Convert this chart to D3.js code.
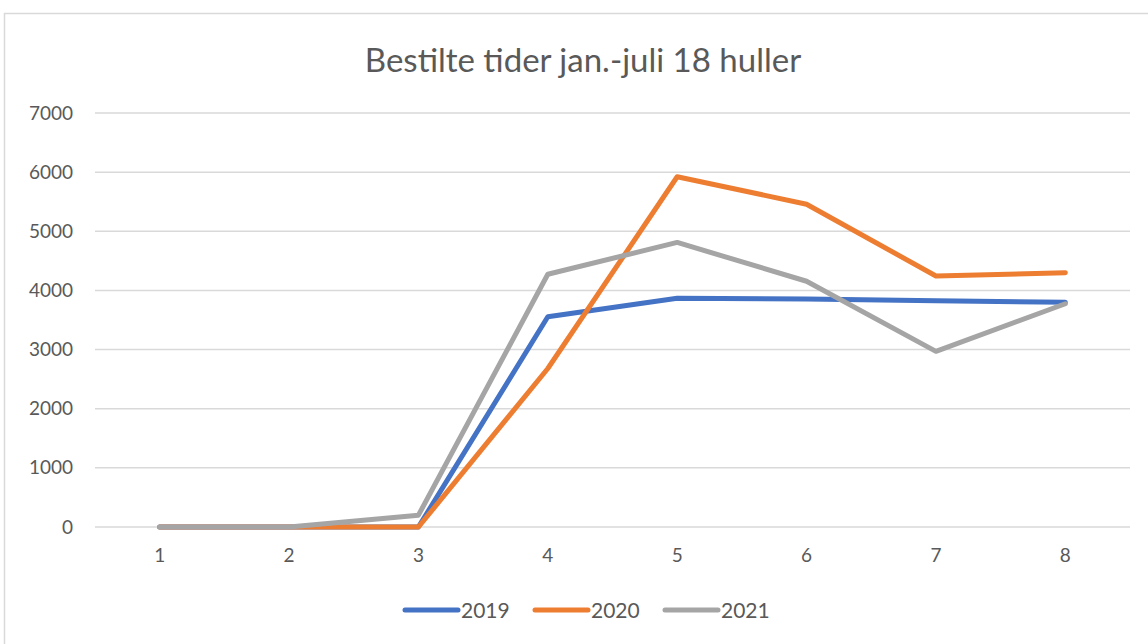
<!DOCTYPE html>
<html>
<head>
<meta charset="utf-8">
<script src="https://cdn.jsdelivr.net/npm/d3@7"></script>
<style>
	body { margin: 0; background: #fff; }
	text { font-family: Lato, "Open Sans", sans-serif; fill: #595959; }
</style>
</head>
<body>
<div id="chart"></div>
<script>
// chart data
let categories = [1, 2, 3, 4, 5, 6, 7, 8];
let seriesNames = ["2019", "2020", "2021"];
let values2019 = [0, 0, 0, 3555, 3868, 3855, 3825, 3800];
let values2020 = [0, 0, 0, 2680, 5922, 5458, 4244, 4300];
let values2021 = [0, 0, 200, 4273, 4812, 4155, 2970, 3775];
let yTicks = [0, 1000, 2000, 3000, 4000, 5000, 6000, 7000];
let colors = ["#4472C4", "#ED7D31", "#A5A5A5"];

let series = [values2019, values2020, values2021].map((vals, i) => ({
	name: seriesNames[i],
	color: colors[i],
	points: vals.map((v, j) => ({cat: categories[j], value: v}))
}));

let width = 1148, height = 644;
let margin = {top: 113, right: 18, bottom: 117, left: 95};

let svg = d3.select("#chart").append("svg")
	.attr("width", width)
	.attr("height", height);

// chart border
svg.append("rect")
	.attr("x", 4.5)
	.attr("y", 13.5)
	.attr("width", 1160)
	.attr("height", 660)
	.attr("fill", "none")
	.attr("stroke", "#D9D9D9")
	.attr("stroke-width", 1.5);

svg.append("text")
	.attr("x", 583)
	.attr("y", 72)
	.attr("text-anchor", "middle")
	.style("font-size", "33px")
	.text("Bestilte tider jan.-juli 18 huller");

let xScale = d3.scaleBand()
	.domain(categories)
	.range([margin.left, width - margin.right]);

let yScale = d3.scaleLinear()
	.domain([0, 7000])
	.range([height - margin.bottom, margin.top]);

// gridlines
svg.append("g")
	.selectAll("line")
	.data(yTicks)
	.enter()
	.append("line")
	.attr("x1", xScale.range()[0])
	.attr("x2", xScale.range()[1])
	.attr("y1", d => yScale(d))
	.attr("y2", d => yScale(d))
	.attr("stroke", "#D9D9D9")
	.attr("stroke-width", 1.5);

let yAxis = d3.axisLeft(yScale)
	.tickValues(yTicks)
	.tickFormat(d3.format("d"))
	.tickSize(0)
	.tickPadding(22);

let gy = svg.append("g")
	.attr("transform", "translate(" + margin.left + ",0)")
	.call(yAxis);
gy.select(".domain").remove();
gy.selectAll("text").style("font-size", "19px").attr("fill", "#595959");

let xAxis = d3.axisBottom(xScale)
	.tickSize(0)
	.tickPadding(22);

let gx = svg.append("g")
	.attr("transform", "translate(0," + yScale(0) + ")")
	.call(xAxis);
gx.select(".domain").remove();
gx.selectAll("text").style("font-size", "19px").attr("fill", "#595959");

let line = d3.line()
	.x(d => xScale(d.cat) + xScale.bandwidth() / 2)
	.y(d => yScale(d.value));

svg.append("g")
	.selectAll("path")
	.data(series)
	.enter()
	.append("path")
	.attr("d", d => line(d.points))
	.attr("fill", "none")
	.attr("stroke", d => d.color)
	.attr("stroke-width", 5)
	.attr("stroke-linejoin", "round")
	.attr("stroke-linecap", "round");

// legend
let legend = svg.append("g")
	.selectAll("g")
	.data(series)
	.enter()
	.append("g")
	.attr("transform", (d, i) => "translate(" + (405 + i * 130) + ",610)");

legend.append("line")
	.attr("x1", 0)
	.attr("x2", 53)
	.attr("stroke", d => d.color)
	.attr("stroke-width", 5)
	.attr("stroke-linecap", "round");

legend.append("text")
	.attr("x", 56)
	.attr("y", 8)
	.style("font-size", "21px")
	.text(d => d.name);
</script>
</body>
</html>
